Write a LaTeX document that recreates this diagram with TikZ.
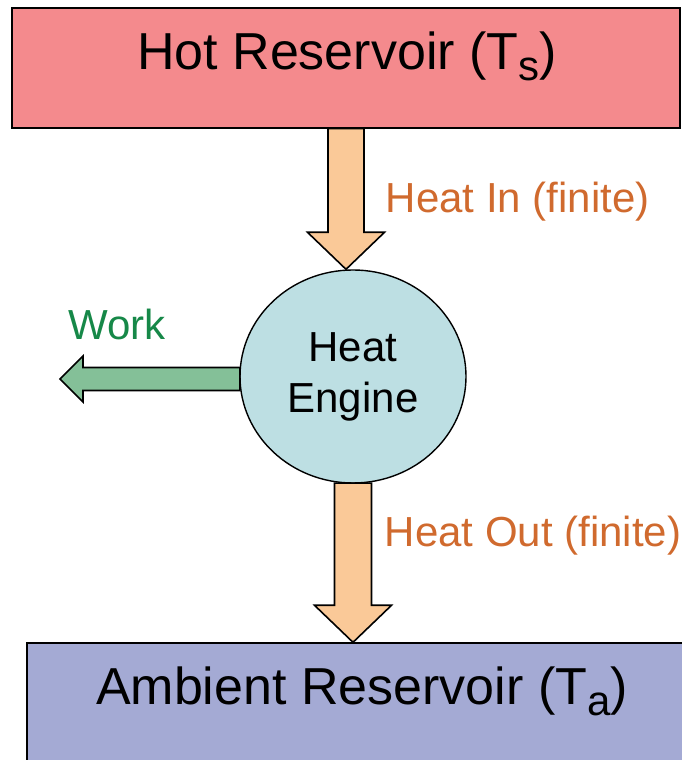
\documentclass[tikz,border=0pt]{standalone}
\usepackage{fontspec}
\setmainfont{Liberation Sans}
\usepackage{xcolor}
\usepackage{tikz}
\usetikzlibrary{shapes.geometric,positioning,calc}

\definecolor{hotfill}{RGB}{244,138,141}
\definecolor{ambfill}{RGB}{164,170,212}
\definecolor{engfill}{RGB}{189,223,227}
\definecolor{heatfill}{RGB}{250,201,152}
\definecolor{workfill}{RGB}{132,192,152}
\definecolor{heattext}{RGB}{208,106,46}
\definecolor{worktext}{RGB}{22,136,72}

\newcommand{\fatarrow}[6]{%
  \path (#2) coordinate (fa-a) (#3) coordinate (fa-b) ($(fa-b)!#6!(fa-a)$) coordinate (fa-h);
  \filldraw[#1] ($(fa-a)!#4!90:(fa-b)$) -- ($(fa-h)!#4!90:(fa-b)$) -- ($(fa-h)!#5!90:(fa-b)$) -- (fa-b)
    -- ($(fa-h)!#5!-90:(fa-b)$) -- ($(fa-h)!#4!-90:(fa-b)$) -- ($(fa-a)!#4!-90:(fa-b)$) -- cycle;}
\newcommand{\lowsub}[1]{\raisebox{-11pt}{\fontsize{42}{42}\selectfont #1}}

\begin{document}
\begin{tikzpicture}[x=1pt, y=1pt, line width=1.4pt,
  reservoir/.style={draw, rectangle, minimum width=668pt, minimum height=120pt, inner sep=0pt},
  engine/.style={draw, ellipse, fill=engfill, minimum width=226pt, minimum height=213pt, inner sep=0pt, align=center, font=\fontsize{42}{51}\selectfont},
  big/.style={font=\fontsize{52}{62}\selectfont, anchor=base, inner sep=0pt},
  lbl/.style={font=\fontsize{42}{48}\selectfont, inner sep=0pt},
  heatarr/.style={fill=heatfill, line width=1.6pt, line join=miter},
  workarr/.style={fill=workfill, line width=1.6pt, line join=miter}]
\useasboundingbox (0,0) rectangle (682,760);
\clip (0,0) rectangle (682,760);
\node[reservoir, fill=hotfill] (hot) at (346,692) {};
\node[big] (hottext) at ($(hot.north)+(1,-62)$) {Hot Reservoir (T\lowsub{s})};
\node[engine] (engine) at (353,383.5) {Heat\\Engine};
\node[reservoir, minimum width=670pt, fill=ambfill] (ambient) at (362,57) {};
\node[big] (ambienttext) at ($(ambient.north)+(0,-62)$) {Ambient Reservoir (T\lowsub{a})};
\coordinate (workend) at (60,381);
\node[lbl, text=heattext, anchor=base west] (heatin) at (385,547) {Heat In (finite)};
\node[lbl, text=heattext, anchor=base west] (heatout) at (384,213) {Heat Out (finite)};
\node[lbl, text=worktext, anchor=base] (work) at (117,420) {Work};
\fatarrow{heatarr}{hot.south}{hot.south |- engine.north}{18pt}{38.5pt}{37pt}
\fatarrow{heatarr}{$(engine.south)+(0,0.6)$}{engine.south |- ambient.north}{18.5pt}{38.5pt}{37pt}
\fatarrow{workarr}{$(engine.west |- workend)+(0.5,0)$}{workend}{11.5pt}{23pt}{23pt}
\end{tikzpicture}
\end{document}
